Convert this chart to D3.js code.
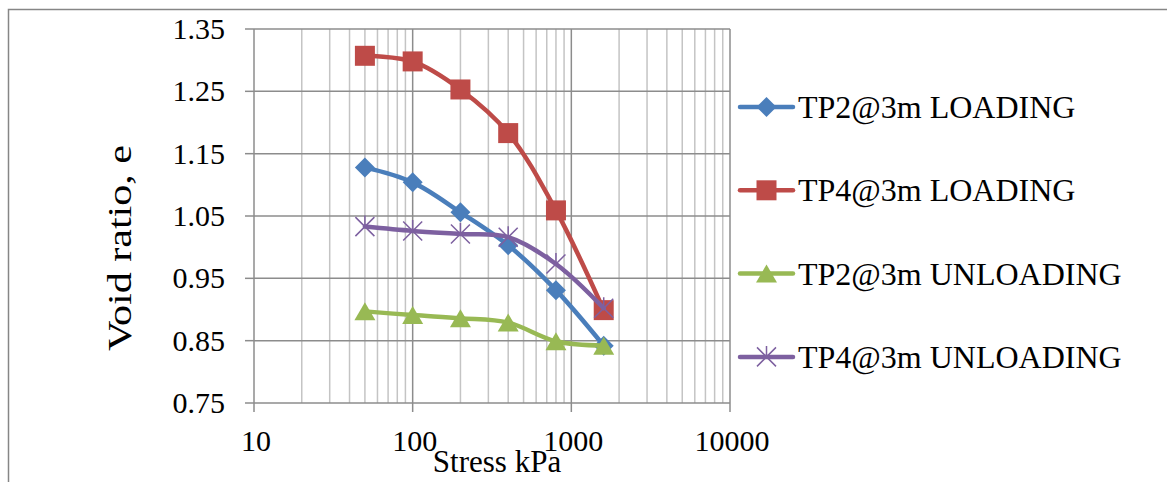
<!DOCTYPE html>
<html>
<head>
<meta charset="utf-8">
<script src="https://cdn.jsdelivr.net/npm/d3@7"></script>
<style>
  body { margin: 0; background: #fff; }
  text { font-family: "Liberation Serif", "Times New Roman", serif; fill: #000; }
</style>
</head>
<body>
<svg id="chart" width="1167" height="482"></svg>
<script>
// consolidation test data, stress in kPa vs void ratio
var stress = [50, 100, 200, 400, 800, 1600];
var tp2Loading = [1.128, 1.104, 1.056, 1.003, 0.931, 0.842];
var tp4Loading = [1.307, 1.298, 1.253, 1.183, 1.059, 0.899];
var tp2Unloading = [0.897, 0.891, 0.886, 0.879, 0.849, 0.842];
var tp4Unloading = [1.033, 1.026, 1.021, 1.016, 0.973, 0.902];
var seriesNames = ["TP2@3m LOADING", "TP4@3m LOADING", "TP2@3m UNLOADING", "TP4@3m UNLOADING"];
var yTicks = [0.75, 0.85, 0.95, 1.05, 1.15, 1.25, 1.35];
var xTicks = [10, 100, 1000, 10000];

var colors = ["#4a7ebb", "#be4b48", "#98b954", "#7d60a0"];
var shapes = ["diamond", "square", "triangle", "cross"];

var margin = {top: 29, left: 254},
    width = 730 - 254,
    height = 403 - 29;

var svg = d3.select("#chart");

// outer chart frame (cut off at right and bottom)
svg.append("rect")
    .attr("x", 8.5).attr("y", 9.5)
    .attr("width", 1300).attr("height", 600)
    .attr("fill", "none")
    .attr("stroke", "#868686")
    .attr("stroke-width", 1.5);

var x = d3.scaleLog().domain([10, 10000]).range([0, width]);
var y = d3.scaleLinear().domain([0.75, 1.35]).range([height, 0]);

var g = svg.append("g")
    .attr("transform", "translate(" + margin.left + "," + margin.top + ")");

// minor vertical grid
var minor = [];
[10, 100, 1000].forEach(function (d) {
  for (var k = 2; k <= 9; k++) minor.push(d * k);
});
g.selectAll(".minor").data(minor).enter().append("line")
    .attr("x1", function (d) { return x(d); })
    .attr("x2", function (d) { return x(d); })
    .attr("y1", 0).attr("y2", height)
    .attr("stroke", "#c4c4c4")
    .attr("stroke-width", 1.5);

// major grid
g.selectAll(".hgrid").data(yTicks).enter().append("line")
    .attr("x1", 0).attr("x2", width)
    .attr("y1", function (d) { return y(d); })
    .attr("y2", function (d) { return y(d); })
    .attr("stroke", "#8c8c8c")
    .attr("stroke-width", 1.5);

g.selectAll(".vgrid").data(xTicks).enter().append("line")
    .attr("x1", function (d) { return x(d); })
    .attr("x2", function (d) { return x(d); })
    .attr("y1", 0).attr("y2", height + 9)
    .attr("stroke", "#8c8c8c")
    .attr("stroke-width", 1.5);

// y ticks
g.selectAll(".ytick").data(yTicks).enter().append("line")
    .attr("x1", -9).attr("x2", 0)
    .attr("y1", function (d) { return y(d); })
    .attr("y2", function (d) { return y(d); })
    .attr("stroke", "#8c8c8c")
    .attr("stroke-width", 1.5);

g.selectAll(".ylab").data(yTicks).enter().append("text")
    .attr("x", -29)
    .attr("y", function (d) { return y(d) + 10; })
    .attr("text-anchor", "end")
    .style("font-size", "30px")
    .text(function (d) { return d.toFixed(2); });

g.selectAll(".xlab").data(xTicks).enter().append("text")
    .attr("x", function (d) { return x(d) + 2; })
    .attr("y", height + 48)
    .attr("text-anchor", "middle")
    .style("font-size", "30px")
    .text(function (d) { return d; });

// axis titles
svg.append("text")
    .attr("x", 497).attr("y", 472)
    .attr("text-anchor", "middle")
    .style("font-size", "31px")
    .text("Stress kPa");

svg.append("text")
    .attr("transform", "translate(131," + 248 + ") rotate(-90)")
    .attr("text-anchor", "middle")
    .attr("textLength", 206)
    .attr("lengthAdjust", "spacingAndGlyphs")
    .style("font-size", "34px")
    .text("Void ratio, e");

// marker shapes
function markerPath(shape) {
  var p = d3.path();
  if (shape === "diamond") {
    p.moveTo(0, -10); p.lineTo(10, 0); p.lineTo(0, 10); p.lineTo(-10, 0); p.closePath();
  } else if (shape === "square") {
    p.rect(-10, -10, 20, 20);
  } else if (shape === "triangle") {
    p.moveTo(0, -9); p.lineTo(10.5, 9); p.lineTo(-10.5, 9); p.closePath();
  } else {
    p.moveTo(-9.5, -9.5); p.lineTo(9.5, 9.5); p.moveTo(9.5, -9.5); p.lineTo(-9.5, 9.5);
    p.moveTo(0, -11); p.lineTo(0, 0);
  }
  return p.toString();
}

function drawMarker(sel, i) {
  if (shapes[i] === "cross") {
    sel.attr("d", markerPath("cross"))
      .attr("fill", "none")
      .attr("stroke", colors[i])
      .attr("stroke-width", 1.5);
  } else {
    sel.attr("d", markerPath(shapes[i]))
      .attr("fill", colors[i]);
  }
}

var allSeries = [tp2Loading, tp4Loading, tp2Unloading, tp4Unloading];

var line = d3.line()
    .x(function (d) { return x(d[0]); })
    .y(function (d) { return y(d[1]); })
    .curve(d3.curveCatmullRom.alpha(0.5));

allSeries.forEach(function (vals, i) {
  var pts = stress.map(function (s, j) { return [s, vals[j]]; });
  var sg = g.append("g");
  sg.append("path")
      .attr("d", line(pts))
      .attr("fill", "none")
      .attr("stroke", colors[i])
      .attr("stroke-width", 4.5)
      .attr("stroke-linejoin", "round")
      .attr("stroke-linecap", "round");
  sg.selectAll(".m").data(pts).enter().append("path")
      .attr("transform", function (d) { return "translate(" + x(d[0]) + "," + y(d[1]) + ")"; })
      .call(drawMarker, i);
});

// legend
var legend = svg.append("g");
seriesNames.forEach(function (name, i) {
  var ly = 107 + i * 83.3;
  var lg = legend.append("g").attr("transform", "translate(0," + ly + ")");
  lg.append("line")
      .attr("x1", 740).attr("x2", 793)
      .attr("y1", 0).attr("y2", 0)
      .attr("stroke", colors[i])
      .attr("stroke-width", 4.5)
      .attr("stroke-linecap", "round");
  lg.append("path")
      .attr("transform", "translate(766.5,0)")
      .call(drawMarker, i);
  lg.append("text")
      .attr("x", 798).attr("y", 11)
      .style("font-size", "32px")
      .text(name);
});
</script>
</body>
</html>
